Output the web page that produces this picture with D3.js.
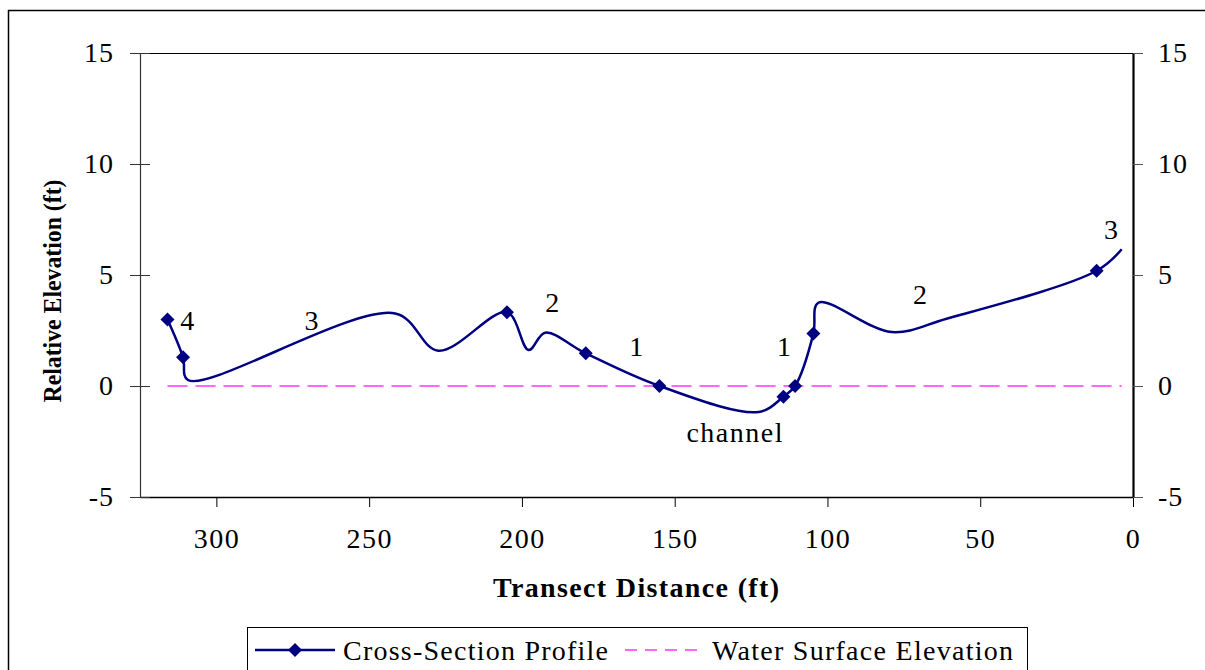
<!DOCTYPE html>
<html>
<head>
<meta charset="utf-8">
<script src="https://cdn.jsdelivr.net/npm/d3@7"></script>
<style>
  html, body { margin: 0; padding: 0; background: #fff; }
  svg { display: block; }
  text { font-family: "Liberation Serif", "Times New Roman", Times, serif; fill: #000; }
</style>
</head>
<body>
<svg id="chart" width="1205" height="670"></svg>
<script>
// ---- data ----
const profileX = [316, 310.9, 309.3, 241.5, 227.4, 204.9, 197.8, 192.4, 179.1, 155.0, 122.5, 114.4, 110.6, 104.6, 103.0, 79.0, 61.0, 11.9, 3.7];
const profileY = [3.0, 1.29, 0.27, 3.27, 1.59, 3.32, 1.62, 2.4, 1.47, 0.0, -1.17, -0.48, 0.0, 2.37, 3.75, 2.43, 3.03, 5.19, 6.16];
const profileMarker = [1, 1, 0, 0, 0, 1, 0, 0, 1, 1, 0, 1, 1, 1, 0, 0, 0, 1, 0];
const waterX = [316, 3.7];
const waterY = [0, 0];
const xTicks = [300, 250, 200, 150, 100, 50, 0];
const yTicks = [-5, 0, 5, 10, 15];
const labelText = ["4", "3", "2", "1", "channel", "1", "2", "3"];
const labelX = [309.5, 268.9, 190.1, 162.6, 130.2, 114.2, 69.7, 7.2];
const labelY = [2.97, 2.97, 3.74, 1.8, -2.1, 1.8, 4.14, 7.07];
const seriesNames = ["Cross-Section Profile", "Water Surface Elevation"];

// ---- layout ----
const svg = d3.select("#chart");
const L = 140, R = 1133, T = 53, B = 497;
const x = d3.scaleLinear().domain([325, 0]).range([L, R]);
const y = d3.scaleLinear().domain([-5, 15]).range([B, T]);
const navy = "#000080", pink = "#ff66ff";
const fmt = d => String(d);
const FONT = "Liberation Serif";

// outer border
svg.append("rect").attr("x", 8.5).attr("y", 10.5).attr("width", 1300).attr("height", 700)
  .attr("fill", "none").attr("stroke", "#000").attr("stroke-width", 1.5);

// plot top border
svg.append("line").attr("x1", L).attr("x2", R).attr("y1", T + 0.5).attr("y2", T + 0.5)
  .attr("stroke", "#000").attr("stroke-width", 1.2);

// bottom axis
const gx = svg.append("g").attr("transform", `translate(0,${B})`)
  .call(d3.axisBottom(x).tickValues(xTicks).tickSize(10).tickSizeOuter(0).tickPadding(21).tickFormat(fmt));
gx.attr("font-family", FONT);
gx.select(".domain").attr("stroke", "#000").attr("stroke-width", 1.5);
gx.selectAll(".tick line").attr("stroke", "#000");
gx.selectAll(".tick text").style("font-size", "28px").style("font-family", FONT).attr("letter-spacing", "1.5px");

// left axis (cross ticks)
const gl = svg.append("g").attr("transform", `translate(${L},0)`)
  .call(d3.axisLeft(y).tickValues(yTicks).tickSize(10).tickSizeOuter(0).tickPadding(16).tickFormat(fmt));
gl.attr("font-family", FONT);
gl.select(".domain").attr("stroke", "#333").attr("stroke-width", 1.2);
gl.selectAll(".tick line").attr("x2", -10).attr("x1", 10).attr("stroke", "#333");
gl.selectAll(".tick text").style("font-size", "28px").style("font-family", FONT).attr("letter-spacing", "1px");

// right axis
const gr = svg.append("g").attr("transform", `translate(${R},0)`)
  .call(d3.axisRight(y).tickValues(yTicks).tickSize(10).tickSizeOuter(0).tickPadding(15).tickFormat(fmt));
gr.attr("font-family", FONT);
gr.select(".domain").attr("stroke", "#000").attr("stroke-width", 2.2);
gr.selectAll(".tick line").attr("stroke", "#555");
gr.selectAll(".tick text").style("font-size", "28px").style("font-family", FONT).attr("letter-spacing", "1px");

// axis titles
svg.append("text").attr("x", 636).attr("y", 597).attr("text-anchor", "middle")
  .style("font-size", "28px").style("font-weight", "bold")
  .attr("textLength", 286).attr("lengthAdjust", "spacing")
  .text("Transect Distance (ft)");
svg.append("text").attr("transform", "translate(61,291) rotate(-90)").attr("text-anchor", "middle")
  .style("font-size", "25px").style("font-weight", "bold")
  .attr("textLength", 223).attr("lengthAdjust", "spacingAndGlyphs")
  .text("Relative Elevation (ft)");

// water surface line
const waterData = waterX.map((v, i) => [v, waterY[i]]);
svg.append("path").datum(waterData)
  .attr("d", d3.line().x(d => x(d[0])).y(d => y(d[1])))
  .attr("fill", "none").attr("stroke", pink).attr("stroke-width", 2)
  .attr("stroke-dasharray", "20,8");

// profile line
const profData = profileX.map((v, i) => ({ x: v, y: profileY[i], m: profileMarker[i] }));
svg.append("path").datum(profData)
  .attr("d", d3.line().x(d => x(d.x)).y(d => y(d.y)).curve(d3.curveCatmullRom.alpha(0.5)))
  .attr("fill", "none").attr("stroke", navy).attr("stroke-width", 2.5);

const diamond = "M0,-7L7,0L0,7L-7,0Z";
svg.selectAll(".mk").data(profData.filter(d => d.m)).join("path")
  .attr("class", "mk").attr("d", diamond)
  .attr("transform", d => `translate(${x(d.x)},${y(d.y)})`)
  .attr("fill", navy);

// annotations
svg.selectAll(".lbl").data(labelText).join("text")
  .attr("class", "lbl")
  .attr("x", (d, i) => x(labelX[i])).attr("y", (d, i) => y(labelY[i]))
  .attr("text-anchor", "middle").attr("dominant-baseline", "central")
  .attr("letter-spacing", (d) => d.length > 1 ? "1.5px" : "0px")
  .style("font-size", "28px")
  .text(d => d);

// legend
const lg = svg.append("g");
lg.append("rect").attr("x", 247.5).attr("y", 627.5).attr("width", 780).attr("height", 80)
  .attr("fill", "#fff").attr("stroke", "#000").attr("stroke-width", 1);
lg.append("line").attr("x1", 255).attr("x2", 335).attr("y1", 650).attr("y2", 650)
  .attr("stroke", navy).attr("stroke-width", 2.5);
lg.append("path").attr("d", diamond).attr("transform", "translate(295,650)").attr("fill", navy);
lg.append("text").attr("x", 343).attr("y", 660).style("font-size", "28px")
  .attr("textLength", 265).attr("lengthAdjust", "spacing").text(seriesNames[0]);
lg.append("line").attr("x1", 625).attr("x2", 703).attr("y1", 650).attr("y2", 650)
  .attr("stroke", pink).attr("stroke-width", 2).attr("stroke-dasharray", "12,8");
lg.append("text").attr("x", 712).attr("y", 660).style("font-size", "28px")
  .attr("textLength", 301).attr("lengthAdjust", "spacing").text(seriesNames[1]);
</script>
</body>
</html>
